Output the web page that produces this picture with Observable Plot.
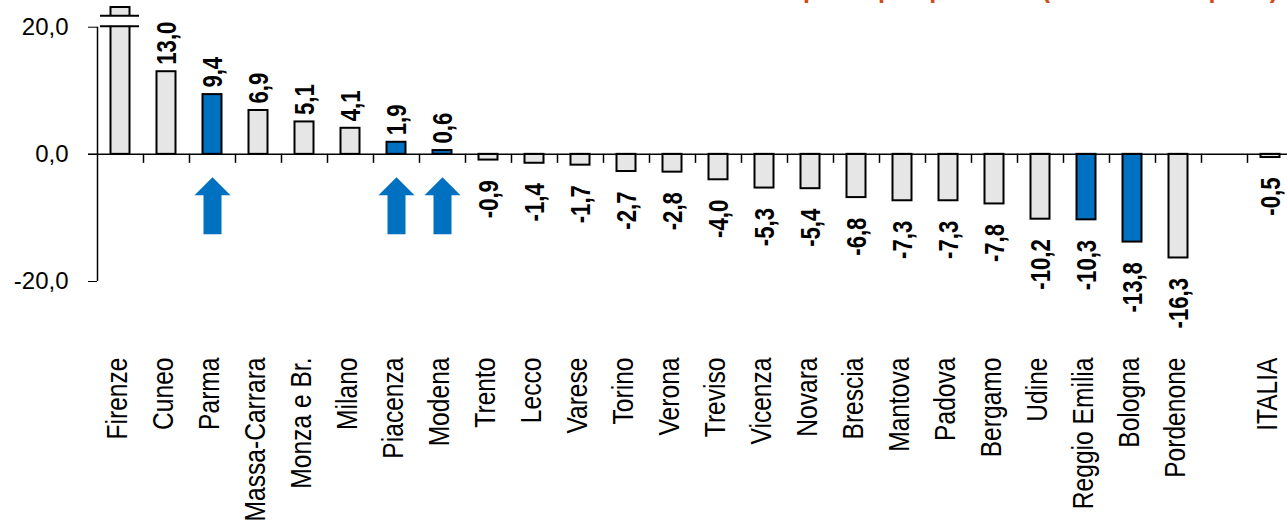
<!DOCTYPE html>
<html><head><meta charset="utf-8">
<script src="https://cdn.jsdelivr.net/npm/d3@7"></script>
<script src="https://cdn.jsdelivr.net/npm/@observablehq/plot@0.6"></script>
<style>
body{margin:0;background:#fff;overflow:hidden}
#wrap{position:relative;width:1287px;height:527px;overflow:hidden}
#title{position:absolute;right:9px;top:-23px;font:bold 25px "Liberation Sans";line-height:25px;color:#d4481b;white-space:nowrap}
#chart svg{display:block}
</style></head><body>
<div id="wrap"><div id="title">Reddito medio pro capite per anno (variazione in punti)</div><div id="chart"></div></div>
<script>
// Categories (provinces, sorted as in the chart)
const provinces = ["Firenze","Cuneo","Parma","Massa-Carrara","Monza e Br.","Milano","Piacenza","Modena","Trento","Lecco","Varese","Torino","Verona","Treviso","Vicenza","Novara","Brescia","Mantova","Padova","Bergamo","Udine","Reggio Emilia","Bologna","Pordenone"];
// Values (Firenze is off-scale: drawn up to the top of the axis, no label)
const values = [23.1, 13.0, 9.4, 6.9, 5.1, 4.1, 1.9, 0.6, -0.9, -1.4, -1.7, -2.7, -2.8, -4.0, -5.3, -5.4, -6.8, -7.3, -7.3, -7.8, -10.2, -10.3, -13.8, -16.3];
const nationalName = "ITALIA";
const nationalValue = -0.5;
const highlighted = ["Parma","Piacenza","Modena","Reggio Emilia","Bologna"];
const arrowed = ["Parma","Piacenza","Modena"];
const brokenBar = "Firenze";
const breakLevels = [20.15, 21.8];
const yTicks = [-20, 0, 20];
const spacer = " ";

const blue = "#0070c0", gray = "#e6e6e6";
const fmt = v => v.toFixed(1).replace(".", ",");
const rows = provinces.map((p, i) => ({name: p, value: values[i], hi: highlighted.includes(p)}));
rows.push({name: nationalName, value: nationalValue, hi: false});
const domain = [...provinces, spacer, nationalName];
const labeled = rows.filter(d => d.name !== brokenBar);
const font = "Liberation Sans, Arial, sans-serif";
const half = 23; // half band width offset for boundary ticks

const arrowSymbol = {
  draw(ctx) {
    ctx.moveTo(0, -28.5);
    ctx.lineTo(18, -10.5);
    ctx.lineTo(9, -10.5);
    ctx.lineTo(9, 28.5);
    ctx.lineTo(-9, 28.5);
    ctx.lineTo(-9, -10.5);
    ctx.lineTo(-18, -10.5);
    ctx.closePath();
  }
};

const chart = Plot.plot({
  width: 1287,
  height: 527,
  marginLeft: 97,
  marginRight: 0,
  marginTop: 7,
  marginBottom: 246,
  style: {fontFamily: font, fontSize: "24px", color: "black", background: "white"},
  x: {domain, range: [97, 1293], padding: 0, axis: null},
  y: {domain: [-20, 23.1], ticks: yTicks, tickFormat: fmt, tickSize: 9, tickPadding: 20, label: null},
  marks: [
    Plot.barY(rows.filter(d => !d.hi), {x: "name", y: "value", fill: gray, stroke: "black", strokeWidth: 2, insetLeft: 13.5, insetRight: 13.5}),
    Plot.barY(rows.filter(d => d.hi), {x: "name", y: "value", fill: blue, stroke: "black", strokeWidth: 2, insetLeft: 13.5, insetRight: 13.5}),
    Plot.barY([brokenBar], {x: d => d, y1: breakLevels[0], y2: breakLevels[1], fill: "white", insetLeft: 3, insetRight: 4}),
    Plot.tickY(breakLevels, {x: () => brokenBar, y: d => d, stroke: "black", strokeWidth: 2, insetLeft: 3, insetRight: 4}),
    Plot.ruleY([0], {insetLeft: -9, stroke: "black", strokeWidth: 1.5}),
    Plot.ruleX([provinces[0]], {y1: -20, y2: 20, dx: -half, stroke: "black", strokeWidth: 1.5}),
    Plot.ruleX(domain.slice(1), {x: d => d, y1: 0, y2: 0, insetBottom: -9, dx: -half, stroke: "black", strokeWidth: 1.5}),
    Plot.text(labeled.filter(d => d.value > 0), {x: "name", y: "value", text: d => fmt(d.value), rotate: -90, textAnchor: "start", dx: 1, dy: -7, fontFamily: font, fontWeight: "bold", fontSize: 27, fill: "black"}),
    Plot.text(labeled.filter(d => d.value < 0), {x: "name", y: "value", text: d => fmt(d.value), rotate: -90, textAnchor: "end", dx: 1, dy: 20, fontFamily: font, fontWeight: "bold", fontSize: 27, fill: "black"}),
    Plot.text(domain.filter(d => d !== spacer), {x: d => d, frameAnchor: "bottom", text: d => d, rotate: -90, textAnchor: "end", dx: 6, dy: 76, fontFamily: font, fontSize: 30, fill: "black"}),
    Plot.dot(arrowed, {x: d => d, y: -8.1, symbol: arrowSymbol, r: 10, fill: blue, stroke: "none"})
  ]
});
// condense the rotated texts (narrow face look of the original)
d3.select(chart).selectAll("text").each(function() {
  const t = this.getAttribute("transform");
  if (t && t.includes("rotate(-90") && !t.includes("scale")) this.setAttribute("transform", t + " scale(0.82,1)");
});
d3.select(chart).selectAll("g").each(function() {
  const t = this.getAttribute("transform");
  if (t && t.includes("rotate(-90") && this.querySelector("text")) {
    this.querySelectorAll(":scope > text").forEach(el => {
      const tt = el.getAttribute("transform") || "";
      if (!tt.includes("scale")) el.setAttribute("transform", (tt + " scale(0.82,1)").trim());
    });
  }
});
document.getElementById("chart").appendChild(chart);
</script>
</body></html>
